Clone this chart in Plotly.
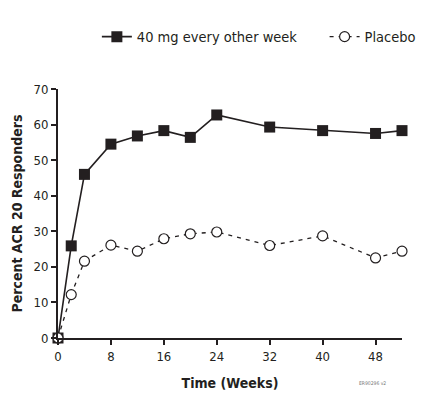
import plotly.graph_objects as go

# -------------------------
# Data
# -------------------------
weeks = [0, 2, 4, 8, 12, 16, 20, 24, 32, 40, 48, 52]
acr20_40mg = [0, 25.9, 46.0, 54.5, 56.8, 58.3, 56.4, 62.7, 59.3, 58.3, 57.5, 58.3]
acr20_placebo = [0, 12.2, 21.6, 26.1, 24.4, 27.9, 29.3, 29.8, 26.0, 28.7, 22.5, 24.4]

x_ticks = [0, 8, 16, 24, 32, 40, 48]
y_ticks = [0, 10, 20, 30, 40, 50, 60, 70]

FONT = "Liberation Sans Narrow, DejaVu Sans Condensed, Arial Narrow, sans-serif"
INK = "#231f20"

fig = go.Figure()

fig.add_trace(go.Scatter(
    x=weeks, y=acr20_40mg,
    mode="lines+markers",
    name="40 mg every other week",
    line=dict(color=INK, width=1.6),
    marker=dict(symbol="square", size=11, color=INK),
    cliponaxis=False,
    legend="legend",
))

fig.add_trace(go.Scatter(
    x=weeks, y=acr20_placebo,
    mode="lines+markers",
    name="Placebo",
    line=dict(color=INK, width=1.3, dash="4px,5px"),
    marker=dict(symbol="circle", size=10, color="white",
                line=dict(color=INK, width=1.2)),
    cliponaxis=False,
    legend="legend2",
))

# one legend per series so each entry can sit where it does in the original
legend_style = dict(
    orientation="h",
    yanchor="middle", y=1.21,
    font=dict(family=FONT, size=14.5, color=INK),
    itemwidth=30,
    bgcolor="rgba(0,0,0,0)",
)

# page adds ~8px body margin, so the figure is a bit smaller than the window
fig.update_layout(
    width=435, height=395,
    margin=dict(l=50, r=41, t=81, b=65),
    paper_bgcolor="white",
    plot_bgcolor="white",
    font=dict(family=FONT, size=13, color=INK),
    showlegend=True,
    legend=dict(legend_style, x=0.113, xanchor="left"),
    legend2=dict(legend_style, x=0.775, xanchor="left"),
)

fig.update_xaxes(
    range=[0, 52],
    tickvals=x_ticks,
    ticks="outside", ticklen=5, tickwidth=1.5, tickcolor=INK,
    showline=True, linecolor=INK, linewidth=1.8,
    showgrid=False, zeroline=False, automargin=False,
    tickfont=dict(family=FONT, size=13, color=INK),
    title=dict(text="<b>Time (Weeks)</b>", standoff=16,
               font=dict(family=FONT, size=14, color=INK)),
)

fig.update_yaxes(
    range=[0, 70],
    tickvals=y_ticks,
    ticks="outside", ticklen=5, tickwidth=1.5, tickcolor=INK,
    showline=True, linecolor=INK, linewidth=1.8,
    showgrid=False, zeroline=False, automargin=False,
    tickfont=dict(family=FONT, size=13, color=INK),
    title=dict(text="<b>Percent ACR 20 Responders</b>", standoff=8,
               font=dict(family=FONT, size=14, color=INK)),
)

# small figure code in the corner
fig.add_annotation(
    text="ER90296 v2", xref="paper", yref="paper",
    x=0.96, y=-0.2, showarrow=False,
    font=dict(family=FONT, size=5, color="#777777"),
)

fig.write_html("out.html")
